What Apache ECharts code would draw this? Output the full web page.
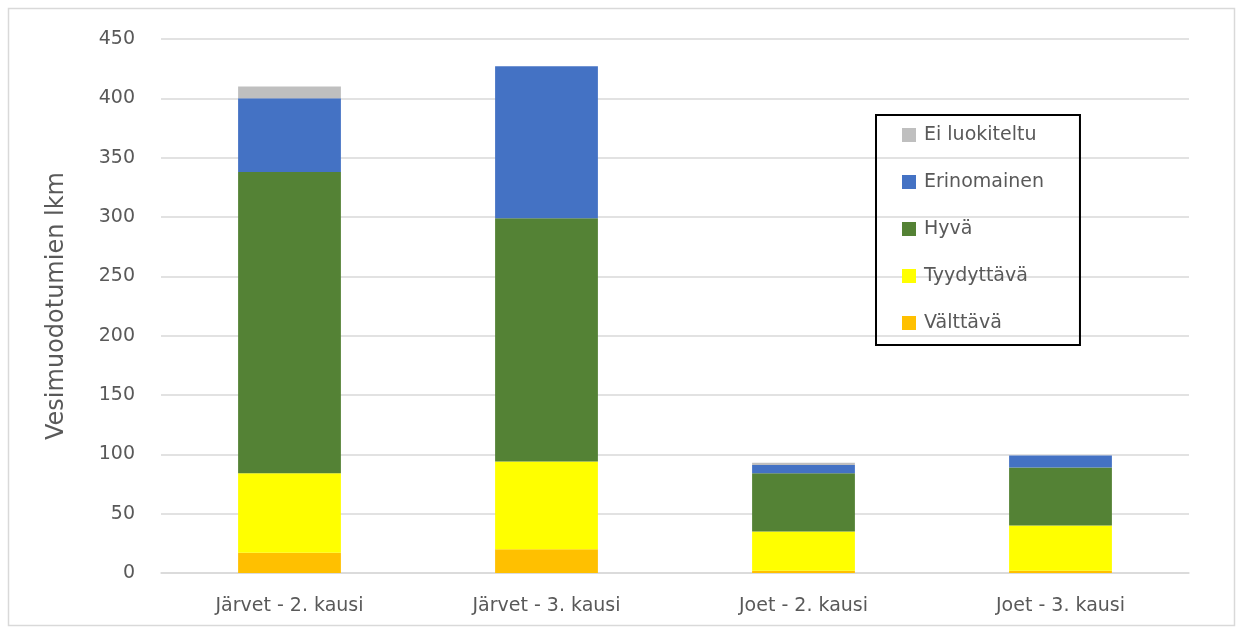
<!DOCTYPE html>
<html>
<head>
<meta charset="utf-8">
<script src="https://cdn.jsdelivr.net/npm/echarts@6/dist/echarts.min.js"></script>
<style>
  html, body { margin: 0; padding: 0; background: #ffffff; }
  #chart { width: 1243px; height: 633px; }
</style>
</head>
<body>
<div id="chart"></div>
<script>
// Vesimuodotumien lukumäärä tilaluokittain
const categories = ['Järvet - 2. kausi', 'Järvet - 3. kausi', 'Joet - 2. kausi', 'Joet - 3. kausi'];
const valttava = [17, 20, 2, 2];
const tyydyttava = [67, 74, 33, 38];
const hyva = [254, 205, 49, 49];
const erinomainen = [62, 128, 7, 10];
const eiLuokiteltu = [10, 0, 2, 0];
const yTicks = { min: 0, max: 450, interval: 50 };
const yAxisTitle = 'Vesimuodotumien lkm';

const FONT = 'DejaVu Sans';
const TEXT = '#595959';

const seriesDefs = [
  { name: 'Välttävä', data: valttava, color: '#FFC000' },
  { name: 'Tyydyttävä', data: tyydyttava, color: '#FFFF00' },
  { name: 'Hyvä', data: hyva, color: '#548235' },
  { name: 'Erinomainen', data: erinomainen, color: '#4472C4' },
  { name: 'Ei luokiteltu', data: eiLuokiteltu, color: '#BFBFBF' }
];

const chart = echarts.init(document.getElementById('chart'), null, { renderer: 'canvas' });

chart.setOption({
  animation: false,
  backgroundColor: '#ffffff',
  textStyle: { fontFamily: FONT },
  grid: { left: 161, right: 54, top: 39, bottom: 60, containLabel: false },
  graphic: [{
    type: 'rect',
    shape: { x: 8.5, y: 8.5, width: 1226, height: 617 },
    style: { fill: 'none', stroke: '#D9D9D9', lineWidth: 1.5 },
    silent: true,
    z: -1
  }],
  legend: {
    orient: 'vertical',
    left: 876,
    top: 115,
    data: seriesDefs.slice().reverse().map(s => s.name),
    itemWidth: 14,
    itemHeight: 14,
    itemGap: 27,
    padding: [10, 36, 12, 26],
    borderColor: '#000000',
    borderWidth: 2,
    icon: 'rect',
    textStyle: { fontFamily: FONT, fontSize: 19, color: TEXT, lineHeight: 20, padding: [0, 0, 0, 3] }
  },
  xAxis: {
    type: 'category',
    data: categories,
    axisTick: { show: false },
    axisLine: { lineStyle: { color: '#D9D9D9', width: 1.5 } },
    axisLabel: { color: TEXT, fontSize: 19, fontFamily: FONT, margin: 24 }
  },
  yAxis: {
    type: 'value',
    min: yTicks.min,
    max: yTicks.max,
    interval: yTicks.interval,
    name: yAxisTitle,
    nameLocation: 'middle',
    nameGap: 92,
    nameRotate: 90,
    nameTextStyle: { color: TEXT, fontSize: 24, fontFamily: FONT },
    axisLine: { show: false },
    axisTick: { show: false },
    axisLabel: { color: TEXT, fontSize: 19, fontFamily: FONT, margin: 26 },
    splitLine: { lineStyle: { color: '#D9D9D9', width: 1.5 } }
  },
  series: seriesDefs.map(s => ({
    name: s.name,
    type: 'bar',
    stack: 'total',
    data: s.data,
    barWidth: '40%',
    itemStyle: { color: s.color },
    emphasis: { disabled: true }
  }))
});
</script>
</body>
</html>
